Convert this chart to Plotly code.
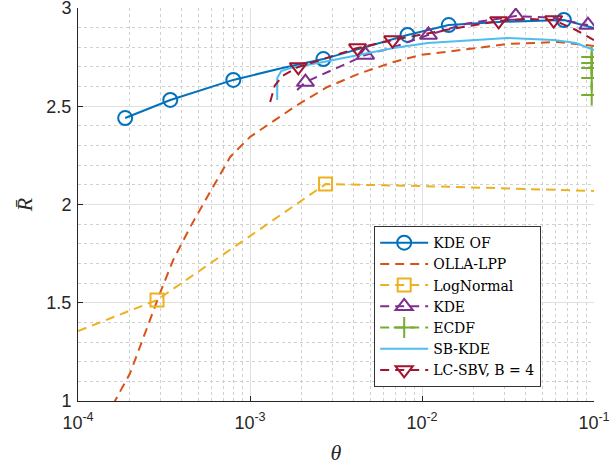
import plotly.graph_objects as go

# ---------------- data ----------------
# KDE OF
kde_of_theta = [1.88e-4, 3.44e-4, 8.0e-4, 1.5e-3, 2.67e-3, 8.24e-3, 1.43e-2, 2.8e-2, 6.68e-2, 1.0e-1]
kde_of_R     = [2.440, 2.532, 2.634, 2.692, 2.740, 2.863, 2.913, 2.929, 2.939, 2.898]
kde_of_mk    = [0, 1, 2, 4, 5, 6, 8]

# OLLA-LPP
olla_theta = [1.60e-4, 1.64e-4, 2.01e-4, 2.52e-4, 3.0e-4, 3.58e-4, 4.49e-4, 5.64e-4, 7.67e-4,
              1.0e-3, 1.44e-3, 1.88e-3, 2.82e-3, 4.39e-3, 6.84e-3, 9.8e-3, 1.68e-2, 3.15e-2,
              6.17e-2, 1.0e-1]
olla_R     = [0.98, 1.000, 1.142, 1.377, 1.550, 1.718, 1.885, 2.038, 2.242,
              2.344, 2.440, 2.506, 2.598, 2.669, 2.725, 2.761, 2.786, 2.817,
              2.827, 2.807]
olla_mk    = []

# LogNormal
logn_theta = [1.0e-4, 2.88e-4, 2.75e-3, 1.0e-2, 1.0e-1]
logn_R     = [1.356, 1.514, 2.104, 2.094, 2.069]
logn_mk    = [1, 2]

# KDE
kde_theta = [1.88e-3, 2.10e-3, 3.0e-3, 4.70e-3, 6.8e-3, 1.09e-2, 1.8e-2, 3.51e-2, 5.8e-2, 9.22e-2]
kde_R     = [2.583, 2.623, 2.684, 2.761, 2.800, 2.863, 2.920, 2.959, 2.950, 2.913]
kde_mk    = [1, 3, 5, 7, 9]

# ECDF
ecdf_theta = [0.097, 0.097, 0.097, 0.097, 0.097, 0.097]
ecdf_R     = [2.780, 2.751, 2.720, 2.695, 2.644, 2.557]
ecdf_mk    = [1, 2, 3, 4, 5]

# SB-KDE
sbkde_theta = [1.44e-3, 1.44e-3, 1.52e-3, 1.72e-3, 2.67e-3, 4.38e-3, 6.84e-3, 1.08e-2,
               1.68e-2, 3.15e-2, 5.83e-2, 7.85e-2, 1.0e-1]
sbkde_R     = [2.532, 2.644, 2.679, 2.695, 2.725, 2.761, 2.796, 2.822,
               2.832, 2.847, 2.837, 2.822, 2.786]
sbkde_mk    = []

# LC-SBV, B = 4
lcsbv_theta = [1.31e-3, 1.39e-3, 1.54e-3, 1.91e-3, 4.22e-3, 6.75e-3, 1.37e-2, 2.79e-2,
               4.0e-2, 5.83e-2, 7.85e-2, 1.0e-1]
lcsbv_R     = [2.522, 2.603, 2.654, 2.700, 2.796, 2.837, 2.888, 2.934,
               2.945, 2.939, 2.888, 2.837]
lcsbv_mk    = [3, 4, 5, 7, 9]

x_tickvals = [1e-4, 1e-3, 1e-2, 1e-1]
x_ticktext = ["10<sup>-4</sup>", "10<sup>-3</sup>", "10<sup>-2</sup>", "10<sup>-1</sup>"]
y_tickvals = [1, 1.5, 2, 2.5, 3]
y_ticktext = ["1", "1.5", "2", "2.5", "3"]

# ---------------- styling ----------------
series = [
    ("KDE OF",        kde_of_theta, kde_of_R, kde_of_mk, "#0072BD", "solid",    "circle-open",        14),
    ("OLLA-LPP",      olla_theta,   olla_R,   olla_mk,   "#D95319", "9px,6px",  None,                 0),
    ("LogNormal",     logn_theta,   logn_R,   logn_mk,   "#EDB120", "9px,6px",  "square-open",        13),
    ("KDE",           kde_theta,    kde_R,    kde_mk,    "#7E2F8E", "9px,6px",  "triangle-up-open",   15),
    ("ECDF",          ecdf_theta,   ecdf_R,   ecdf_mk,   "#77AC30", "9px,6px",  "cross-thin-open",    15),
    ("SB-KDE",        sbkde_theta,  sbkde_R,  sbkde_mk,  "#4DBEEE", "solid",    None,                 0),
    ("LC-SBV, B = 4", lcsbv_theta,  lcsbv_R,  lcsbv_mk,  "#A2142F", "9px,6px",  "triangle-down-open", 15),
]

fig = go.Figure()
for name, xs, ys, mk, color, dash, symbol, msize in series:
    fig.add_trace(go.Scatter(x=xs, y=ys, mode="lines", legendgroup=name, showlegend=False,
                             line=dict(color=color, width=2, dash=dash), hoverinfo="skip"))
    if symbol and mk:
        fig.add_trace(go.Scatter(x=[xs[i] for i in mk], y=[ys[i] for i in mk], mode="markers",
                                 legendgroup=name, showlegend=False,
                                 marker=dict(symbol=symbol, size=msize, color=color,
                                             line=dict(color=color, width=2))))
    fig.add_trace(go.Scatter(x=[None], y=[None], name=name, legendgroup=name,
                             mode="lines+markers" if symbol else "lines",
                             line=dict(color=color, width=2, dash=dash),
                             marker=dict(symbol=symbol or "circle", size=msize, color=color,
                                         line=dict(color=color, width=2))))

grid_major = "#e0e0e0"
grid_minor = "#d0d0d0"
axis_col = "#262626"
tick_font = dict(family="Liberation Sans", size=18, color=axis_col)
serif = "Liberation Serif"

fig.update_xaxes(
    type="log", range=[-4, -1], tickvals=x_tickvals, ticktext=x_ticktext,
    showline=True, linecolor=axis_col, linewidth=1, mirror=False,
    showgrid=True, gridcolor=grid_major, gridwidth=1,
    ticks="inside", ticklen=5, tickcolor=axis_col, ticklabelstandoff=5,
    ticklabeloverflow="allow",
    minor=dict(dtick="D1", showgrid=True, gridcolor=grid_minor, griddash="dot", gridwidth=1,
               ticks=""),
    tickfont=tick_font, zeroline=False, automargin=False,
    title=dict(text="<i>θ</i>", font=dict(family=serif, size=22, color=axis_col), standoff=14),
)
fig.update_yaxes(
    range=[1, 3], tickvals=y_tickvals, ticktext=y_ticktext,
    showline=True, linecolor=axis_col, linewidth=1, mirror=False,
    showgrid=True, gridcolor=grid_major, gridwidth=1,
    ticks="inside", ticklen=5, tickcolor=axis_col, ticklabelstandoff=2,
    ticklabeloverflow="allow",
    minor=dict(dtick=0.1, showgrid=True, gridcolor=grid_minor, griddash="dot", gridwidth=1,
               ticks=""),
    tickfont=tick_font, zeroline=False, automargin=False,
    title=dict(text="<i>R̄</i>", font=dict(family=serif, size=22, color=axis_col), standoff=7),
)

fig.update_layout(
    width=613, height=465,
    margin=dict(l=78, r=19, t=8, b=64),
    paper_bgcolor="white", plot_bgcolor="white",
    showlegend=True,
    legend=dict(x=0.574, y=0.445, xanchor="left", yanchor="top",
                bgcolor="white", bordercolor="#333333", borderwidth=1,
                font=dict(family="DejaVu Serif", size=14, color="#000000"),
                tracegroupgap=0, itemwidth=48),
)

fig.write_html("out.html", config={"displayModeBar": False},
               post_script="document.body.style.margin='0';")
